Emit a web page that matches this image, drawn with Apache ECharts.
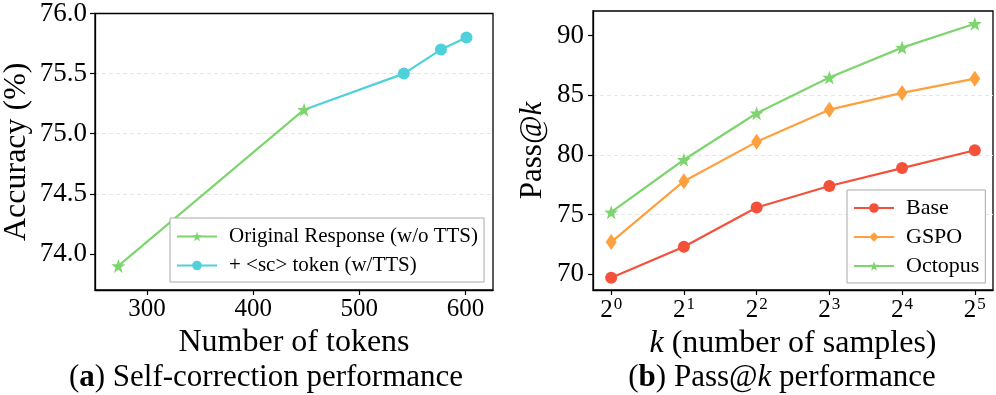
<!DOCTYPE html>
<html>
<head>
<meta charset="utf-8">
<script src="https://cdn.jsdelivr.net/npm/echarts@6/dist/echarts.min.js"></script>
<style>
  html, body { margin: 0; padding: 0; background: #fff; }
  #chart { width: 996px; height: 395px; }
</style>
</head>
<body>
<div id="chart"></div>
<script>
// (a) self-correction: tokens vs accuracy
const origTokens = [273, 448]
const origAcc = [73.9, 75.2]
const ttsTokens = [448, 542, 577, 601]
const ttsAcc = [75.2, 75.5, 75.7, 75.8]
const accTicks = [74.0, 74.5, 75.0, 75.5, 76.0]
const tokenTicks = [300, 400, 500, 600]

// (b) pass@k, x = log2(k)
const kExp = [0, 1, 2, 3, 4, 5]
const baseVals = [69.7, 72.3, 75.6, 77.4, 78.9, 80.4]
const gspoVals = [72.7, 77.8, 81.1, 83.8, 85.2, 86.4]
const octoVals = [75.2, 79.6, 83.5, 86.5, 89.0, 91.0]
const passTicks = [70, 75, 80, 85, 90]

const FONT = 'Liberation Serif'
const GREEN = '#7ed56f'
const CYAN = '#4fd1dc'
const RED = '#f4513b'
const ORANGE = '#ffa03f'
const STAR = 'path://M0,-10 L2.35,-3.24 L9.51,-3.09 L3.8,1.24 L5.88,8.09 L0,4 L-5.88,8.09 L-3.8,1.24 L-9.51,-3.09 L-2.35,-3.24 Z'

const zip = (xs, ys) => xs.map((x, i) => [x, ys[i]])

const chart = echarts.init(document.getElementById('chart'))

const splitLine = { show: true, showMaxLine: false, showMinLine: false, lineStyle: { color: '#e6e6e6', type: [4, 3], width: 1 } }
const axisLine = { show: true, onZero: false, lineStyle: { color: '#000', width: 1.3 } }
const axisTick = { show: true, length: 5, lineStyle: { color: '#000', width: 1.2 } }
const legendText = { fontSize: 21, color: '#000', fontFamily: FONT, padding: [0, 0, 0, 7] }

const option = {
  animation: false,
  textStyle: { fontFamily: FONT },
  grid: [
    { left: 91, top: 11, width: 402, height: 279, show: true, borderColor: '#000', borderWidth: 1.3 },
    { left: 593, top: 11, width: 400, height: 279, show: true, borderColor: '#000', borderWidth: 1.3 },
  ],
  xAxis: [
    {
      gridIndex: 0, type: 'value', min: 251, max: 626,
      name: 'Number of tokens', nameLocation: 'middle', nameGap: 35,
      nameTextStyle: { fontSize: 32, color: '#000', fontFamily: FONT },
      axisLine, axisTick: { ...axisTick, customValues: tokenTicks },
      axisLabel: { customValues: tokenTicks, fontSize: 25, color: '#000', margin: 7, fontFamily: FONT },
      splitLine: { show: false },
    },
    {
      gridIndex: 1, type: 'value', min: -0.25, max: 5.25,
      name: '{i|k} (number of samples)', nameLocation: 'middle', nameGap: 35,
      nameTextStyle: {
        fontSize: 32, color: '#000', fontFamily: FONT,
        rich: { i: { fontSize: 32, fontStyle: 'italic', fontFamily: FONT } },
      },
      axisLine, axisTick: { ...axisTick, customValues: kExp },
      axisLabel: {
        customValues: kExp, color: '#000', margin: 6, fontFamily: FONT,
        formatter: (v) => '{b|2}{s|' + v + '}',
        rich: {
          b: { fontSize: 25, fontFamily: FONT, color: '#000', verticalAlign: 'bottom' },
          s: { fontSize: 17, fontFamily: FONT, color: '#000', verticalAlign: 'top', padding: [0, 0, 10, 1] },
        },
      },
      splitLine: { show: false },
    },
  ],
  yAxis: [
    {
      gridIndex: 0, type: 'value', min: 73.7, max: 76.0,
      name: 'Accuracy (%)', nameLocation: 'middle', nameGap: 62,
      nameTextStyle: { fontSize: 32, color: '#000', fontFamily: FONT },
      axisLine, axisTick: { ...axisTick, customValues: accTicks },
      axisLabel: { customValues: accTicks, fontSize: 27, color: '#000', margin: 8, fontFamily: FONT,
        formatter: (v) => v.toFixed(1) },
      splitLine: { ...splitLine },
    },
    {
      gridIndex: 1, type: 'value', min: 68.68, max: 92.07,
      name: 'Pass@{i|k}', nameLocation: 'middle', nameGap: 45,
      nameTextStyle: {
        fontSize: 31, color: '#000', fontFamily: FONT,
        rich: { i: { fontSize: 31, fontStyle: 'italic', fontFamily: FONT } },
      },
      axisLine, axisTick: { ...axisTick, customValues: passTicks },
      axisLabel: { customValues: passTicks, fontSize: 27, color: '#000', margin: 9, fontFamily: FONT },
      splitLine: { ...splitLine },
    },
  ],
  legend: [
    {
      left: 170, top: 218, width: 313, orient: 'vertical',
      data: ['Original Response (w/o TTS)', '+ <sc> token (w/TTS)'],
      itemWidth: 40, itemHeight: 12, itemGap: 8,
      padding: [8, 6, 6, 6],
      borderColor: '#aaa', borderWidth: 1, borderRadius: 0, backgroundColor: '#fff',
      textStyle: legendText,
    },
    {
      left: 847, top: 190, orient: 'vertical',
      data: ['Base', 'GSPO', 'Octopus'],
      itemWidth: 40, itemHeight: 12, itemGap: 7,
      padding: [7, 6, 6, 6],
      borderColor: '#aaa', borderWidth: 1, borderRadius: 0, backgroundColor: '#fff',
      textStyle: { ...legendText, fontSize: 22 },
    },
  ],
  series: [
    {
      name: '+ <sc> token (w/TTS)', type: 'line', xAxisIndex: 0, yAxisIndex: 0,
      data: zip(ttsTokens, ttsAcc).map((p, i) => (i === 0 ? { value: p, symbol: 'none' } : p)),
      color: CYAN, lineStyle: { width: 2.2 }, symbol: 'circle', symbolSize: 12, z: 2,
    },
    {
      name: 'Original Response (w/o TTS)', type: 'line', xAxisIndex: 0, yAxisIndex: 0,
      data: zip(origTokens, origAcc),
      color: GREEN, lineStyle: { width: 2.2 }, symbol: STAR, symbolSize: 14, z: 3,
    },
    {
      name: 'Base', type: 'line', xAxisIndex: 1, yAxisIndex: 1,
      data: zip(kExp, baseVals),
      color: RED, lineStyle: { width: 2.2 }, symbol: 'circle', symbolSize: 12,
    },
    {
      name: 'GSPO', type: 'line', xAxisIndex: 1, yAxisIndex: 1,
      data: zip(kExp, gspoVals),
      color: ORANGE, lineStyle: { width: 2.2 }, symbol: 'diamond', symbolSize: [11, 16],
    },
    {
      name: 'Octopus', type: 'line', xAxisIndex: 1, yAxisIndex: 1,
      data: zip(kExp, octoVals),
      color: GREEN, lineStyle: { width: 2.2 }, symbol: STAR, symbolSize: 14,
    },
  ],
  graphic: [
    {
      type: 'text', x: 266, y: 378,
      style: {
        text: '({b|a}) Self-correction performance',
        fontSize: 31, fontFamily: FONT, fill: '#000', align: 'center', verticalAlign: 'middle',
        rich: { b: { fontSize: 31, fontWeight: 'bold', fontFamily: FONT } },
      },
    },
    {
      type: 'text', x: 782, y: 378,
      style: {
        text: '({b|b}) Pass@{i|k} performance',
        fontSize: 31, fontFamily: FONT, fill: '#000', align: 'center', verticalAlign: 'middle',
        rich: {
          b: { fontSize: 31, fontWeight: 'bold', fontFamily: FONT },
          i: { fontSize: 31, fontStyle: 'italic', fontFamily: FONT },
        },
      },
    },
  ],
}

chart.setOption(option)
</script>
</body>
</html>
